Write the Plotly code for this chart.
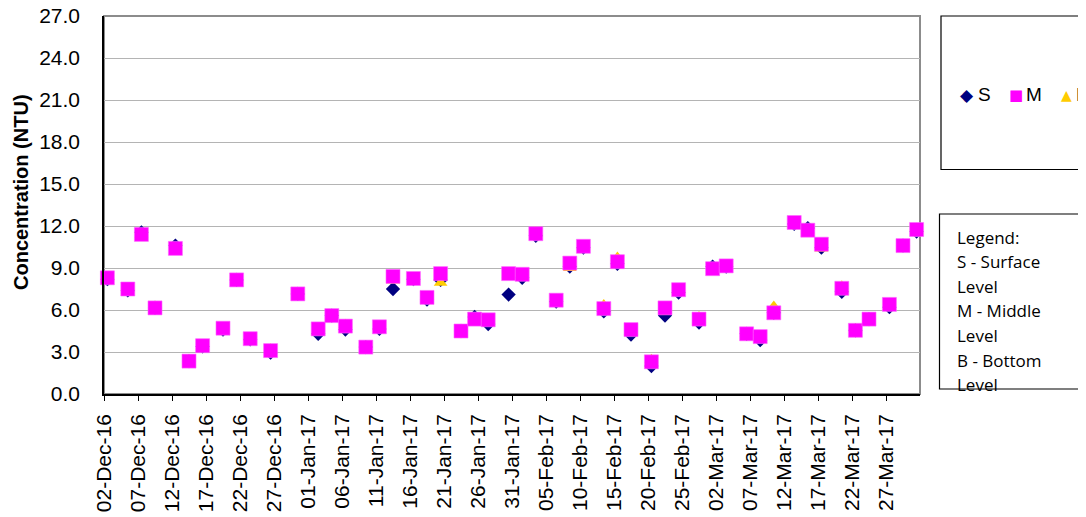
import pandas as pd
import plotly.graph_objects as go

# ---- data ----
dates = ["2016-12-02", "2016-12-05", "2016-12-07", "2016-12-09", "2016-12-12", "2016-12-14",
         "2016-12-16", "2016-12-19", "2016-12-21", "2016-12-23", "2016-12-26", "2016-12-30",
         "2017-01-02", "2017-01-04", "2017-01-06", "2017-01-09", "2017-01-11", "2017-01-13",
         "2017-01-16", "2017-01-18", "2017-01-20", "2017-01-23", "2017-01-25", "2017-01-27",
         "2017-01-30", "2017-02-01", "2017-02-03", "2017-02-06", "2017-02-08", "2017-02-10",
         "2017-02-13", "2017-02-15", "2017-02-17", "2017-02-20", "2017-02-22", "2017-02-24",
         "2017-02-27", "2017-03-01", "2017-03-03", "2017-03-06", "2017-03-08", "2017-03-10",
         "2017-03-13", "2017-03-15", "2017-03-17", "2017-03-20", "2017-03-22", "2017-03-24",
         "2017-03-27", "2017-03-29", "2017-03-31"]

surface = [8.2, 7.4, 11.55, 6.15, 10.6, 2.35, 3.4, 4.6, 8.15, 3.9, 2.95, 7.15,
           4.3, 5.6, 4.6, 3.35, 4.65, 7.5, 8.2, 6.75, 8.15, 4.5, 5.5, 5.0,
           7.1, 8.3, 11.3, 6.6, 9.1, 10.45, 5.9, 9.3, 4.25, 2.0, 5.6, 7.25,
           5.1, 9.1, 9.1, 4.3, 3.85, 5.8, 12.15, 11.85, 10.45, 7.3, 4.55, 5.35,
           6.2, 10.6, 11.6]

middle = [8.3, 7.5, 11.4, 6.15, 10.4, 2.35, 3.45, 4.7, 8.15, 3.95, 3.1, 7.15,
          4.65, 5.6, 4.85, 3.35, 4.8, 8.4, 8.25, 6.9, 8.6, 4.5, 5.35, 5.3,
          8.6, 8.55, 11.45, 6.7, 9.35, 10.55, 6.1, 9.45, 4.6, 2.3, 6.15, 7.45,
          5.35, 8.95, 9.15, 4.3, 4.1, 5.8, 12.25, 11.7, 10.7, 7.55, 4.55, 5.35,
          6.4, 10.6, 11.75]

bottom = [8.3, 7.5, 11.4, 6.25, 10.15, 2.45, 3.35, 4.7, 8.2, 4.0, 3.2, 7.0,
          4.45, 5.65, 4.95, 3.35, 4.8, 8.1, 8.25, 6.9, 7.95, 4.5, 5.35, 5.3,
          8.5, 8.35, 11.55, 6.75, 9.0, 10.55, 6.35, 9.75, 4.6, 2.45, 5.9, 7.45,
          5.5, 8.95, 9.2, 4.3, 4.1, 6.25, 12.1, 11.7, 10.4, 7.7, 4.65, 5.4,
          6.45, 10.45, 11.8]

tick_dates = pd.date_range("2016-12-02", "2017-03-27", freq="5D")
tick_text = [d.strftime("%d-%b-%y") for d in tick_dates]
y_ticks = [0, 3, 6, 9, 12, 15, 18, 21, 24, 27]

legend_text_lines = ["Legend:", "S - Surface", "Level", "M - Middle", "Level", "B - Bottom", "Level"]

# ---- layout geometry (figure pixels; the page adds an 8px body offset) ----
W, H = 1086, 517
OFF = 8
L, T = 96, 8
R = W - 912
B = H - 386
PW, PH = W - L - R, H - T - B


def px(x):  # screen px -> paper x
    return (x - OFF - L) / PW


def py(y):  # screen px -> paper y
    return (H - B - (y - OFF)) / PH


# Excel date axis places each day's point in the middle of its day slot
xd = pd.to_datetime(dates) + pd.Timedelta(hours=12)

fig = go.Figure()
fig.add_trace(go.Scatter(x=xd, y=surface, mode="markers", name="S", cliponaxis=False,
                         marker=dict(symbol="diamond", size=11, color="#000080")))
fig.add_trace(go.Scatter(x=xd, y=bottom, mode="markers", name="B", cliponaxis=False,
                         marker=dict(symbol="triangle-up", size=12, color="#FFCC00")))
fig.add_trace(go.Scatter(x=xd, y=middle, mode="markers", name="M", cliponaxis=False,
                         marker=dict(symbol="square", size=14, color="#FF00FF",
                                     line=dict(width=0.6, color="#FF66FF"))))

fig.update_layout(
    width=W, height=H,
    margin=dict(l=L, r=R, t=T, b=B, autoexpand=False),
    paper_bgcolor="white", plot_bgcolor="white",
    showlegend=False,
    font=dict(family="Liberation Sans, Arial, sans-serif", color="black"),
)

fig.update_xaxes(
    type="date",
    range=["2016-12-02", "2017-04-01"],
    tickvals=tick_dates, ticktext=tick_text,
    tickangle=-90,
    tickfont=dict(size=21, color="black"),
    ticks="outside", ticklen=5, tickcolor="black", tickwidth=1,
    ticklabelstandoff=5, ticklabeloverflow="allow",
    showgrid=False, zeroline=False,
    showline=True, linecolor="black", linewidth=1.5,
)
fig.update_yaxes(
    range=[0, 27],
    tickvals=y_ticks, tickformat=".1f",
    tickfont=dict(size=21, color="black"),
    ticks="", ticklabelstandoff=18, ticklabeloverflow="allow",
    showgrid=True, gridcolor="#B4B4B4", gridwidth=1,
    zeroline=False,
    showline=True, linecolor="black", linewidth=1.5,
)

# plot-area border (grey, top/right)
fig.add_shape(type="rect", xref="paper", yref="paper", x0=0, x1=1, y0=0, y1=1,
              line=dict(color="#8C8C8C", width=2), layer="below")

# y axis title
fig.add_annotation(text="<b>Concentration (NTU)</b>", xref="paper", yref="paper",
                   x=px(21), y=py(192), textangle=-90, showarrow=False,
                   xanchor="center", yanchor="middle",
                   font=dict(size=20, family="Liberation Sans, Arial, sans-serif"))

# legend box
fig.add_shape(type="rect", xref="paper", yref="paper", x0=px(941), x1=px(1130),
              y0=py(169.5), y1=py(16), line=dict(color="black", width=1.2))
legend_items = [("◆", "#000080", 966.7, 17, "S", 976),
                ("■", "#FF00FF", 1016, 15, "M", 1024),
                ("▲", "#FFCC00", 1066.7, 14, "B", 1074)]
for sym, col, sx, fs, lab, lx in legend_items:
    fig.add_annotation(text=sym, xref="paper", yref="paper", x=px(sx), y=py(94.5),
                       xanchor="center", yanchor="middle", showarrow=False,
                       font=dict(size=fs, color=col, family="DejaVu Sans"))
    fig.add_annotation(text=lab, xref="paper", yref="paper", x=px(lx), y=py(94.5),
                       xanchor="left", yanchor="middle", showarrow=False,
                       font=dict(size=19, color="black"))

# text box
fig.add_shape(type="rect", xref="paper", yref="paper", x0=px(939.5), x1=px(1130),
              y0=py(389), y1=py(214), line=dict(color="black", width=1.2))
for i, line in enumerate(legend_text_lines):
    fig.add_annotation(text=line, xref="paper", yref="paper", x=px(955), y=py(237 + 24.6 * i),
                       xanchor="left", yanchor="middle", showarrow=False,
                       font=dict(size=17, color="black", family="Open Sans"))

fig.write_html("out.html")
